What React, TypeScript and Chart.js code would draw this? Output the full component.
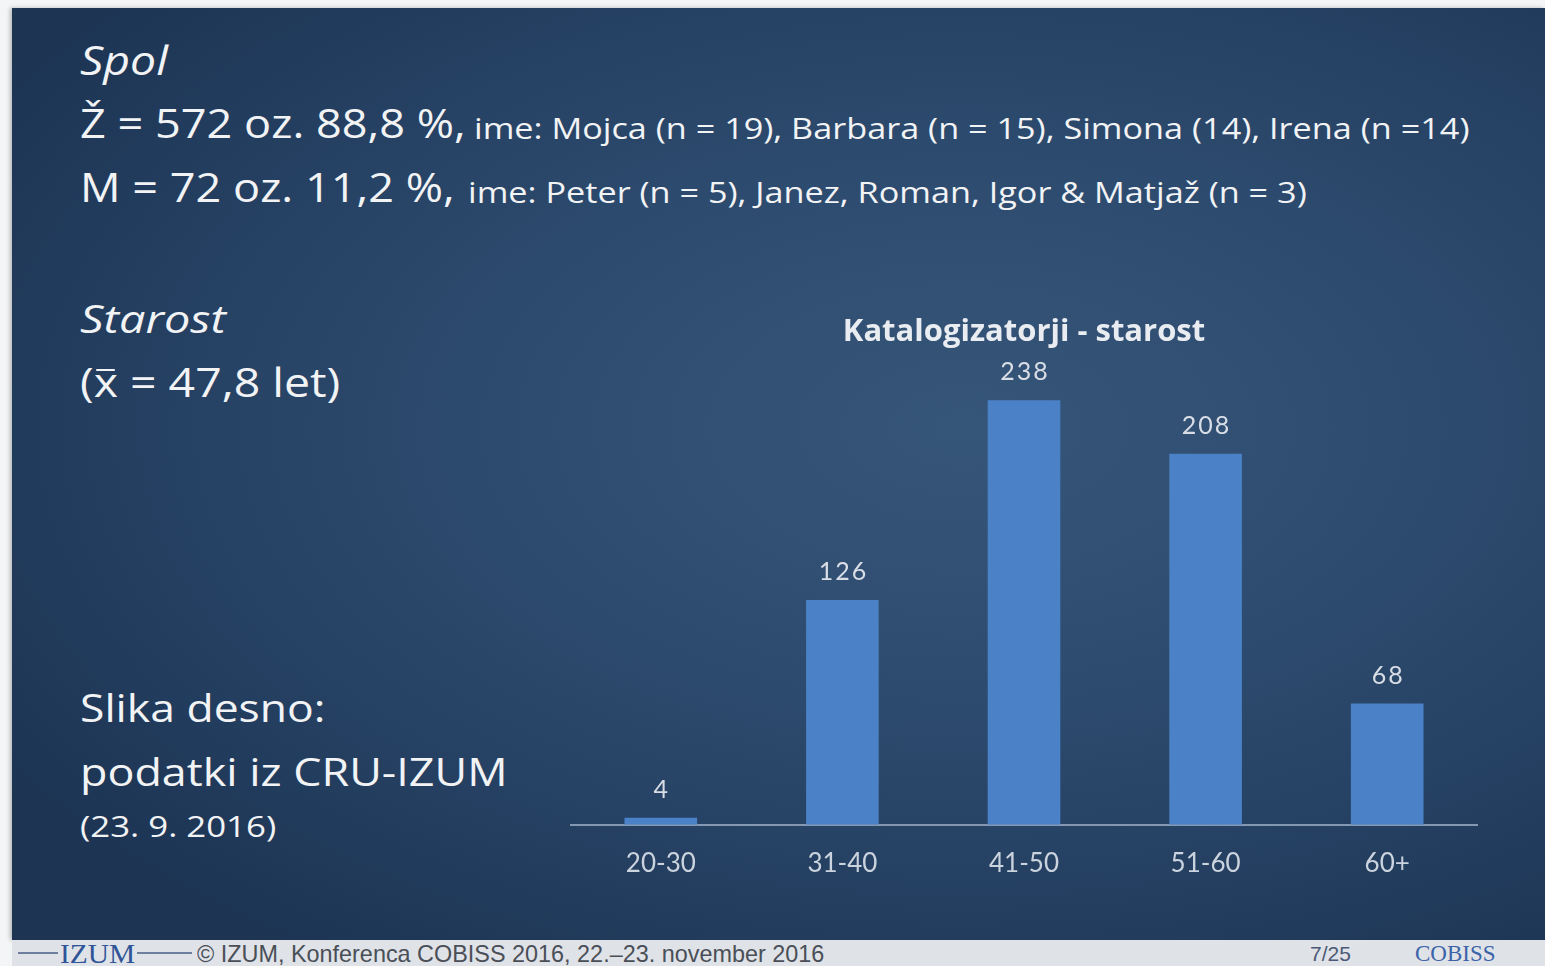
import React, { useEffect, useRef } from "react";
import { Chart, registerables } from "chart.js";

Chart.register(...registerables);

const categories = ["20-30", "31-40", "41-50", "51-60", "60+"];
const counts = [4, 126, 238, 208, 68];
const chartTitle = "Katalogizatorji - starost";
const yMax = 261;

const FONT = "Lato, 'Open Sans', sans-serif";
const TFONT = "'Open Sans', Lato, sans-serif";

const valueLabels = {
  id: "valueLabels",
  afterDatasetsDraw(chart: any) {
    const ctx = chart.ctx;
    const meta = chart.getDatasetMeta(0);
    ctx.save();
    ctx.font = "25px " + FONT;
    try {
      (ctx as any).letterSpacing = "2px";
    } catch (e) {}
    ctx.fillStyle = "#d9dee6";
    ctx.textAlign = "center";
    ctx.textBaseline = "middle";
    meta.data.forEach((bar: any, i: number) => {
      ctx.fillText(String(counts[i]), bar.x + 1, bar.y - 28);
    });
    ctx.restore();
  },
};

function AgeChart() {
  const ref = useRef<HTMLCanvasElement | null>(null);
  useEffect(() => {
    if (!ref.current) return;
    const chart = new Chart(ref.current, {
      type: "bar",
      data: {
        labels: categories,
        datasets: [
          {
            data: counts,
            backgroundColor: "#4b81c6",
            borderWidth: 0,
            categoryPercentage: 1,
            barPercentage: 0.4,
          },
        ],
      },
      options: {
        responsive: true,
        maintainAspectRatio: false,
        animation: false,
        layout: { padding: 0 },
        plugins: {
          legend: { display: false },
          tooltip: { enabled: false },
          title: {
            display: true,
            text: chartTitle,
            color: "#e9edf2",
            font: { family: TFONT, size: 31, weight: "bold" },
            padding: { top: 24, bottom: 8 },
          },
        },
        scales: {
          x: {
            grid: { display: false, drawTicks: false },
            border: { display: true, color: "#8598b1", width: 2 },
            ticks: {
              color: "#cbd3de",
              font: { family: FONT, size: 26 },
              padding: 23,
            },
          },
          y: {
            display: false,
            min: 0,
            max: yMax,
          },
        },
      },
      plugins: [valueLabels],
    });
    (document as any).fonts?.ready?.then(() => chart.update());
    return () => chart.destroy();
  }, []);
  return <canvas ref={ref} />;
}

const txt: React.CSSProperties = {
  position: "absolute",
  whiteSpace: "nowrap",
  color: "#f2f3f5",
  fontFamily: TFONT,
  lineHeight: 1,
  transformOrigin: "left top",
};

export default function App() {
  return (
    <div
      style={{
        position: "fixed",
        left: 0,
        top: 0,
        width: 1545,
        height: 966,
        background: "#f4f5f7",
        overflow: "hidden",
      }}
    >
      <div
        style={{
          position: "absolute",
          left: 12,
          top: 8,
          width: 1533,
          height: 932,
          background:
            "radial-gradient(ellipse 75% 70% at 62% 45%, #365679 0%, #2c4a6d 45%, #223c5d 80%, #1d3453 100%)",
          boxShadow: "-2px 0 4px rgba(0,0,0,0.25)",
        }}
      />
      <div style={{ ...txt, left: 80, top: 39, fontSize: 41, fontStyle: "italic", transform: "scaleX(1.13)" }}>
        Spol
      </div>
      <div style={{ ...txt, left: 80, top: 102, fontSize: 41, transform: "scaleX(1.1)" }}>
        Ž = 572 oz. 88,8 %,
      </div>
      <div style={{ ...txt, left: 474, top: 113, fontSize: 29, transform: "scaleX(1.18)" }}>
        ime: Mojca (n = 19), Barbara (n = 15), Simona (14), Irena (n =14)
      </div>
      <div style={{ ...txt, left: 80, top: 166, fontSize: 41, transform: "scaleX(1.1)" }}>
        M = 72 oz. 11,2 %,
      </div>
      <div style={{ ...txt, left: 468, top: 177, fontSize: 29, transform: "scaleX(1.18)" }}>
        ime: Peter (n = 5), Janez, Roman, Igor &amp; Matjaž (n = 3)
      </div>
      <div style={{ ...txt, left: 80, top: 298, fontSize: 39, fontStyle: "italic", transform: "scaleX(1.2)" }}>
        Starost
      </div>
      <div style={{ ...txt, left: 80, top: 362, fontSize: 40, transform: "scaleX(1.16)" }}>
        (
        <span style={{ position: "relative", display: "inline-block" }}>
          x
          <span
            style={{
              position: "absolute",
              left: "0.06em",
              right: "0.06em",
              top: "0.17em",
              height: "0.06em",
              background: "currentColor",
            }}
          />
        </span>{" "}
        = 47,8 let)
      </div>
      <div style={{ ...txt, left: 80, top: 688, fontSize: 38, transform: "scaleX(1.17)" }}>Slika desno:</div>
      <div style={{ ...txt, left: 80, top: 752, fontSize: 38, transform: "scaleX(1.18)" }}>podatki iz CRU-IZUM</div>
      <div style={{ ...txt, left: 80, top: 811, fontSize: 30, transform: "scaleX(1.16)" }}>(23. 9. 2016)</div>

      <div style={{ position: "absolute", left: 570, top: 290, width: 908, height: 612 }}>
        <AgeChart />
      </div>

      <div
        style={{
          position: "absolute",
          left: 12,
          top: 940,
          width: 1533,
          height: 26,
          background: "#dfe2e7",
        }}
      />
      <div style={{ position: "absolute", left: 18, top: 952, width: 40, height: 2, background: "#6d7f9c" }} />
      <div
        style={{
          ...txt,
          left: 60,
          top: 941,
          fontSize: 27,
          fontFamily: "'Liberation Serif', serif",
          color: "#2f5597",
          transform: "scaleX(1.09)",
        }}
      >
        IZUM
      </div>
      <div style={{ position: "absolute", left: 137, top: 952, width: 55, height: 2, background: "#6d7f9c" }} />
      <div
        style={{
          ...txt,
          left: 197,
          top: 942,
          fontSize: 24,
          fontFamily: "'Liberation Sans Narrow', 'Liberation Sans', sans-serif",
          color: "#4a4f57",
          transform: "scaleX(0.975)",
        }}
      >
        © IZUM, Konferenca COBISS 2016, 22.–23. november 2016
      </div>
      <div
        style={{
          ...txt,
          left: 1310,
          top: 943,
          fontSize: 21,
          fontFamily: "'Liberation Sans Narrow', 'Liberation Sans', sans-serif",
          color: "#4a5a76",
        }}
      >
        7/25
      </div>
      <div
        style={{
          ...txt,
          left: 1415,
          top: 942,
          fontSize: 23,
          fontFamily: "'Liberation Serif', serif",
          color: "#3b63a8",
        }}
      >
        COBISS
      </div>
    </div>
  );
}
